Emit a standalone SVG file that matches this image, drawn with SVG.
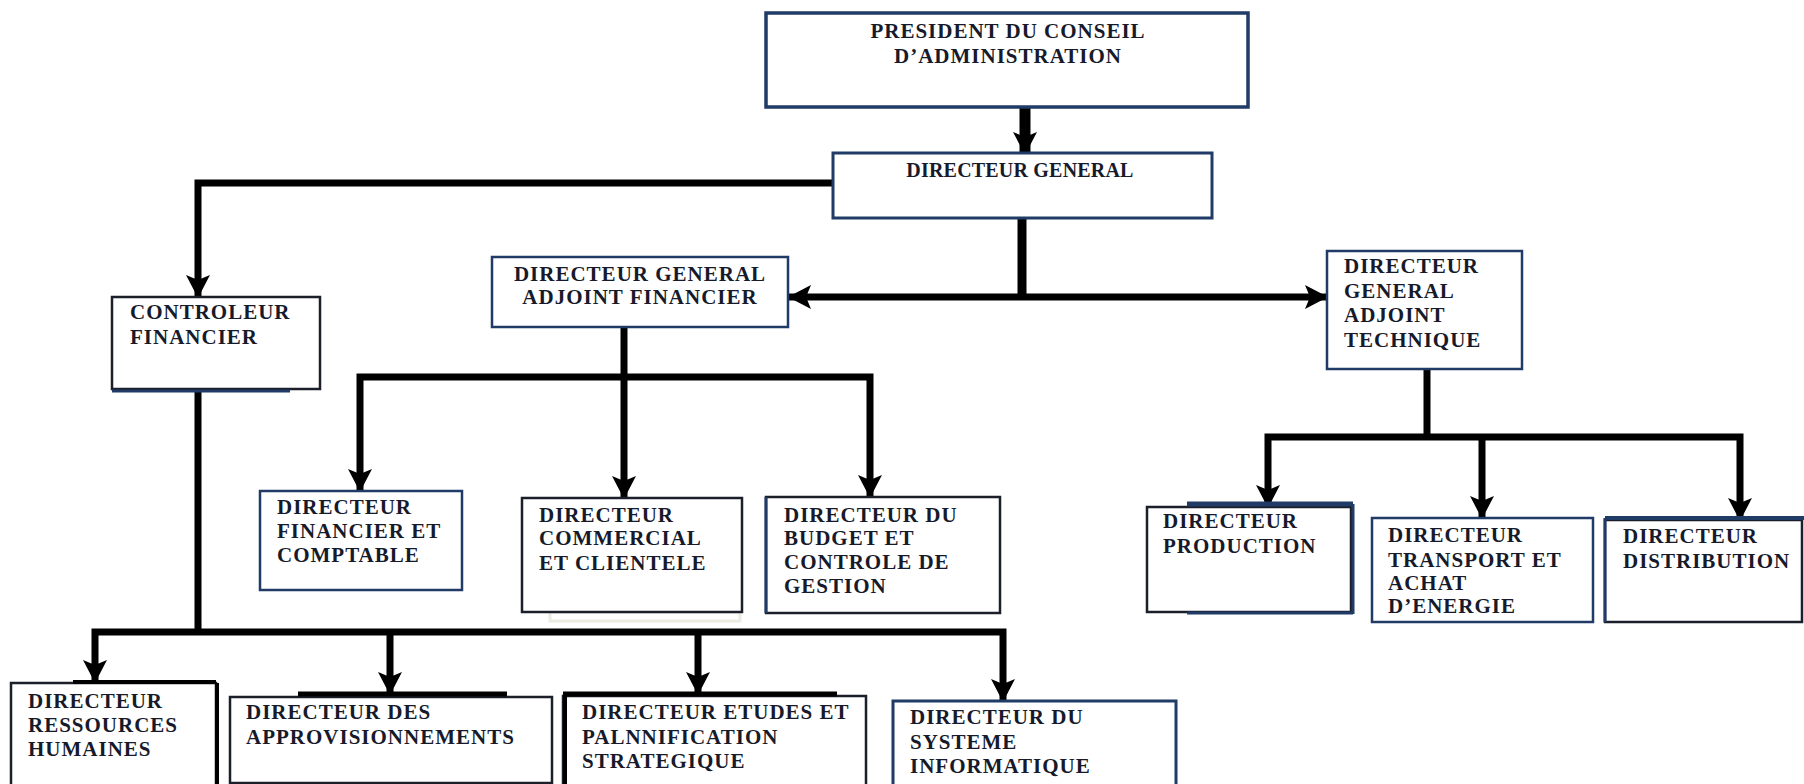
<svg xmlns="http://www.w3.org/2000/svg" width="1804" height="784" viewBox="0 0 1804 784">
<style>
.box{fill:#fff;stroke:#1b1f2a;stroke-width:2.5}
.blue{fill:none;stroke:#1f3b66;stroke-width:3}
.t{font-family:"Liberation Serif","Times New Roman",serif;font-weight:bold;font-size:21px;letter-spacing:1px;fill:#161a2a}
.c{text-anchor:middle}
.ln{fill:none;stroke:#000;stroke-width:7}
</style>
<defs>
<marker id="ah" markerUnits="userSpaceOnUse" markerWidth="26" markerHeight="26" viewBox="0 0 26 26" refX="22" refY="13" orient="auto-start-reverse">
<path d="M0,1 L5,13 L0,25 L23,13 z" fill="#000"/>
</marker>
</defs>
<rect width="1804" height="784" fill="#fff"/>
<g id="connectors">
<line class="ln" x1="1025" y1="107" x2="1025" y2="154" style="stroke-width:11" marker-end="url(#ah)"/>
<path class="ln" d="M833,183 H198 V297" marker-end="url(#ah)"/>
<line class="ln" x1="1022" y1="218" x2="1022" y2="300" style="stroke-width:9"/>
<line class="ln" x1="789" y1="297" x2="1327" y2="297" marker-start="url(#ah)" marker-end="url(#ah)"/>
<line class="ln" x1="624" y1="327" x2="624" y2="498" marker-end="url(#ah)"/>
<path class="ln" d="M360,491 V377 H870 V497" marker-start="url(#ah)" marker-end="url(#ah)"/>
<line class="ln" x1="198" y1="389" x2="198" y2="632"/>
<path class="ln" d="M95,682 V632 H1003 V701" marker-start="url(#ah)" marker-end="url(#ah)"/>
<line class="ln" x1="390" y1="632" x2="390" y2="694" marker-end="url(#ah)"/>
<line class="ln" x1="698" y1="632" x2="698" y2="694" marker-end="url(#ah)"/>
<line class="ln" x1="1427" y1="369" x2="1427" y2="437"/>
<path class="ln" d="M1268,507 V437 H1740 V520" marker-start="url(#ah)" marker-end="url(#ah)"/>
<line class="ln" x1="1482" y1="437" x2="1482" y2="518" marker-end="url(#ah)"/>
</g>
<g id="pca">
<rect class="box" x="766" y="13" width="482" height="94" style="stroke:#1f3b66;stroke-width:3.5"/>
<text class="t c" x="1008" y="38">PRESIDENT DU CONSEIL</text>
<text class="t c" x="1008" y="63">D’ADMINISTRATION</text>
</g>
<g id="dg">
<rect class="box" x="833" y="153" width="379" height="65" style="stroke:#1f3b66;stroke-width:3"/>
<text class="t c" x="1020" y="177" style="font-size:20px;letter-spacing:0.2px">DIRECTEUR GENERAL</text>
</g>
<g id="ctrl">
<rect class="box" x="112" y="297" width="208" height="92"/>
<line class="blue" x1="112" y1="391" x2="290" y2="391"/>
<text class="t" x="130" y="319">CONTROLEUR</text>
<text class="t" x="130" y="344">FINANCIER</text>
</g>
<g id="dgaf">
<rect class="box" x="492" y="257" width="296" height="70" style="stroke:#1f3b66"/>
<text class="t c" x="640" y="281">DIRECTEUR GENERAL</text>
<text class="t c" x="640" y="304">ADJOINT FINANCIER</text>
</g>
<g id="dgat">
<rect class="box" x="1327" y="251" width="195" height="118" style="stroke:#1f3b66"/>
<text class="t" x="1344" y="273">DIRECTEUR</text>
<text class="t" x="1344" y="298">GENERAL</text>
<text class="t" x="1344" y="322">ADJOINT</text>
<text class="t" x="1344" y="347">TECHNIQUE</text>
</g>
<g id="dfc">
<rect class="box" x="260" y="491" width="202" height="99" style="stroke:#1f3b66"/>
<text class="t" x="277" y="514">DIRECTEUR</text>
<text class="t" x="277" y="538">FINANCIER ET</text>
<text class="t" x="277" y="562">COMPTABLE</text>
</g>
<g id="dcc">
<rect x="550" y="612" width="190" height="9" fill="none" stroke="#ecebe2" stroke-width="3"/>
<rect class="box" x="522" y="498" width="220" height="114"/>
<text class="t" x="539" y="522">DIRECTEUR</text>
<text class="t" x="539" y="545">COMMERCIAL</text>
<text class="t" x="539" y="570">ET CLIENTELE</text>
</g>
<g id="dbcg">
<rect class="box" x="766" y="497" width="234" height="116"/>
<line class="blue" x1="766" y1="497" x2="766" y2="613"/>
<text class="t" x="784" y="522">DIRECTEUR DU</text>
<text class="t" x="784" y="545">BUDGET ET</text>
<text class="t" x="784" y="569">CONTROLE DE</text>
<text class="t" x="784" y="593">GESTION</text>
</g>
<g id="dprod">
<rect class="box" x="1147" y="507" width="204" height="105"/>
<line x1="1187" y1="504" x2="1353" y2="504" stroke="#1f3b66" stroke-width="5"/>
<line class="blue" x1="1353" y1="504" x2="1353" y2="614"/>
<line class="blue" x1="1187" y1="613" x2="1353" y2="613"/>
<text class="t" x="1163" y="528">DIRECTEUR</text>
<text class="t" x="1163" y="553">PRODUCTION</text>
</g>
<g id="dtae">
<rect class="box" x="1372" y="518" width="221" height="104" style="stroke:#1f3b66"/>
<text class="t" x="1388" y="542">DIRECTEUR</text>
<text class="t" x="1388" y="567">TRANSPORT ET</text>
<text class="t" x="1388" y="590">ACHAT</text>
<text class="t" x="1388" y="613">D’ENERGIE</text>
</g>
<g id="ddist">
<rect class="box" x="1605" y="520" width="197" height="102"/>
<line x1="1605" y1="518" x2="1804" y2="518" stroke="#1f3b66" stroke-width="4"/>
<line class="blue" x1="1605" y1="518" x2="1605" y2="622"/>
<text class="t" x="1623" y="543">DIRECTEUR</text>
<text class="t" x="1623" y="568">DISTRIBUTION</text>
</g>
<g id="drh">
<rect class="box" x="11" y="683" width="205" height="110"/>
<line x1="73" y1="682" x2="216" y2="682" stroke="#000" stroke-width="4"/>
<line x1="217" y1="683" x2="217" y2="784" stroke="#000" stroke-width="4"/>
<text class="t" x="28" y="708">DIRECTEUR</text>
<text class="t" x="28" y="732">RESSOURCES</text>
<text class="t" x="28" y="756">HUMAINES</text>
</g>
<g id="dappro">
<rect class="box" x="230" y="697" width="322" height="86"/>
<line x1="298" y1="694" x2="507" y2="694" stroke="#000" stroke-width="5"/>
<text class="t" x="246" y="719">DIRECTEUR DES</text>
<text class="t" x="246" y="744">APPROVISIONNEMENTS</text>
</g>
<g id="detudes">
<rect class="box" x="563" y="696" width="303" height="100"/>
<line x1="563" y1="694" x2="837" y2="694" stroke="#000" stroke-width="5"/>
<line x1="565" y1="696" x2="565" y2="784" stroke="#000" stroke-width="4"/>
<text class="t" x="582" y="719">DIRECTEUR ETUDES ET</text>
<text class="t" x="582" y="744">PALNNIFICATION</text>
<text class="t" x="582" y="768">STRATEGIQUE</text>
</g>
<g id="dsi">
<rect class="box" x="893" y="701" width="283" height="95" style="stroke:#1f3b66;stroke-width:3"/>
<text class="t" x="910" y="724">DIRECTEUR DU</text>
<text class="t" x="910" y="749">SYSTEME</text>
<text class="t" x="910" y="773">INFORMATIQUE</text>
</g>
</svg>
